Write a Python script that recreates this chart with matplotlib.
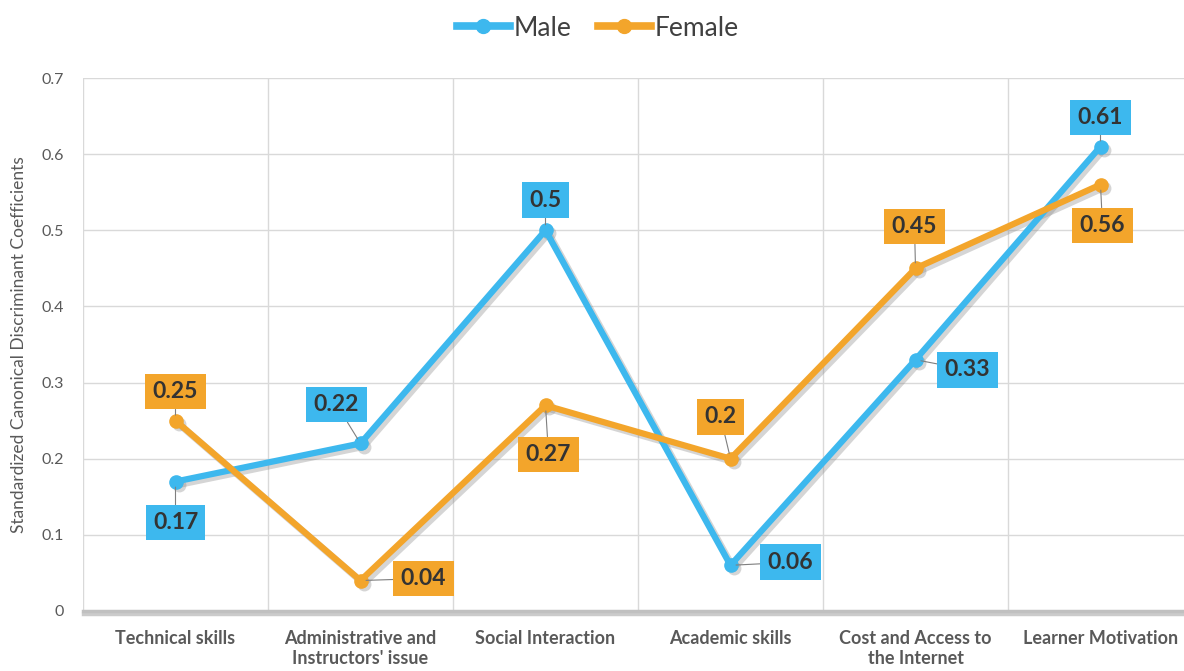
import matplotlib
matplotlib.use("Agg")
import matplotlib.pyplot as plt
import matplotlib.patheffects as pe
import matplotlib.transforms as mtransforms
from matplotlib.lines import Line2D

plt.rcParams['font.family'] = ['Lato', 'DejaVu Sans']

categories = ["Technical skills", "Administrative and\nInstructors' issue", "Social Interaction",
              "Academic skills", "Cost and Access to\nthe Internet", "Learner Motivation"]
male = [0.17, 0.22, 0.5, 0.06, 0.33, 0.61]
female = [0.25, 0.04, 0.27, 0.2, 0.45, 0.56]
yticks = [0, 0.1, 0.2, 0.3, 0.4, 0.5, 0.6, 0.7]
ytick_labels = ["0", "0.1", "0.2", "0.3", "0.4", "0.5", "0.6", "0.7"]

BLUE = "#3DB8EE"
ORANGE = "#F3A52B"

# label offsets in pixels (dx, dy up)
male_off = [(0, -41), (-24, 39), (0, 30), (60, 3), (52, -10), (0, 29)]
female_off = [(0, 29), (63, 2), (3, -49), (-10, 42), (-1, 42), (2, -41)]

fig = plt.figure(figsize=(11.84, 6.71), dpi=100)
ax = fig.add_axes([83/1184, 1-611/671, 1110/1184, (611-78)/671])

x = list(range(len(categories)))
shadow_tr = mtransforms.offset_copy(ax.transData, fig=fig, x=2.2, y=-2.2, units='points')
for vals, col, name in [(male, BLUE, "Male"), (female, ORANGE, "Female")]:
    ax.plot(x, vals, color='#888888', lw=5, marker='o', ms=10, alpha=0.35, mec='none',
            solid_joinstyle='round', transform=shadow_tr, zorder=2)
    ax.plot(x, vals, color=col, lw=4.5, marker='o', ms=9.5, mec=col, solid_joinstyle='round',
            zorder=3, label=name)

def annotate(vals, offs, col):
    for xi, v, (dx, dy) in zip(x, vals, offs):
        ax.annotate(f"{v:g}", xy=(xi, v), xytext=(dx*0.72, dy*0.72), textcoords='offset points',
                    ha='center', va='center', fontsize=16.5, fontweight='bold', color='#333333',
                    bbox=dict(boxstyle='square,pad=0.32', fc=col, ec='none'),
                    arrowprops=dict(arrowstyle='-', color='#7f7f7f', lw=0.8, shrinkA=0, shrinkB=4),
                    zorder=5)

annotate(male, male_off, BLUE)
annotate(female, female_off, ORANGE)

ax.set_xlim(-0.5, 5.5)
ax.set_ylim(0, 0.7)
ax.set_yticks(yticks)
ax.set_yticklabels(ytick_labels, fontsize=11.5, color='#595959')
ax.set_xticks(x)
ax.set_xticklabels(categories, fontsize=13, fontweight='bold', color='#595959')
ax.set_xticks([i + 0.5 for i in range(-1, 6)], minor=True)
ax.tick_params(axis='both', which='both', length=0)
ax.tick_params(axis='x', pad=14)
ax.tick_params(axis='y', pad=14)
ax.grid(True, which='minor', axis='x', color='#d9d9d9', lw=1)
ax.grid(True, which='major', axis='y', color='#d9d9d9', lw=1)
for s in ['top', 'right', 'left']:
    ax.spines[s].set_visible(False)
ax.spines['bottom'].set_color('#c0c0c0')
ax.spines['bottom'].set_linewidth(2.5)
ax.spines['bottom'].set_path_effects([pe.SimpleLineShadow(offset=(0, -2), shadow_color='#999999', alpha=0.5), pe.Normal()])
ax.set_axisbelow(True)

ax.set_ylabel("Standardized Canonical Discriminant Coefficients", fontsize=12.5, color='#595959', labelpad=10)

handles = [Line2D([], [], color=BLUE, lw=5.5, marker='o', ms=10),
           Line2D([], [], color=ORANGE, lw=5.5, marker='o', ms=10)]
fig.legend(handles, ["Male", "Female"], loc='center', bbox_to_anchor=(598/1184, 1-28/671), ncol=2,
           frameon=False, fontsize=19, handlelength=2.0, handletextpad=0.15, columnspacing=1.0,
           labelcolor='#404040')

fig.savefig("out.png", dpi=100)
